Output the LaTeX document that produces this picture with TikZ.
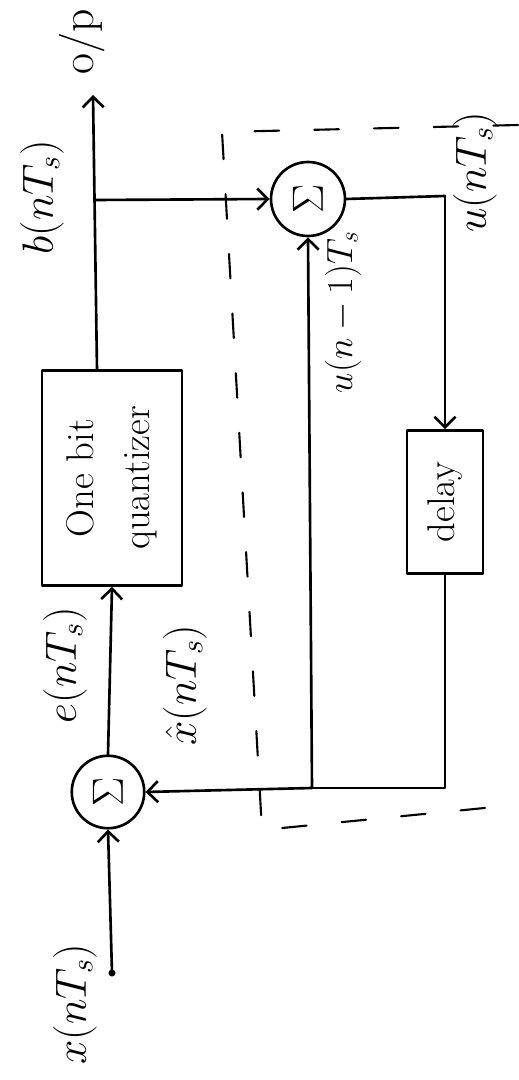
\documentclass[tikz,border=0pt]{standalone}
\usetikzlibrary{arrows.meta}
\begin{document}
\begin{tikzpicture}[x=0.02cm,y=0.02cm,rotate=90,transform shape,
  line width=1.5pt, line cap=round, line join=round,
  arr/.style={-{Straight Barb[length=6pt,width=12pt]}},
  sumnode/.style={circle,draw,minimum size=1.45cm,inner sep=0pt,font=\fontsize{24}{28}\selectfont},
  blk/.style={draw,rectangle,inner sep=0pt,align=center},
  lbl/.style={inner sep=0pt,font=\fontsize{26}{30}\selectfont},
  dashbox/.style={dash pattern=on 14pt off 20pt, line width=1.2pt}]
\useasboundingbox (0,0) rectangle (1080,-518);
% blocks
\node[sumnode] (s1) at (288,-108) {$\Sigma$};
\node[blk, minimum width=4.3cm, minimum height=2.8cm, font=\fontsize{22}{32}\selectfont] (q) at (602,-112) {One bit\\quantizer};
\node[sumnode, minimum size=1.48cm] (s2) at (881,-308) {$\Sigma$};
\node[blk, minimum width=2.86cm, minimum height=1.52cm, font=\fontsize{22}{26}\selectfont] (d) at (578,-445) {delay};
% helper points
\coordinate (in) at (107,-112);
\coordinate (qo) at (710,-97);
\coordinate (op) at (985,-93);
\coordinate (br) at (880,-95);
\coordinate (c1) at (884,-445);
\coordinate (c2) at (292,-445);
\coordinate (j) at (292,-312);
% connectors
\draw[arr] (in) -- (s1.west);
\fill (in) circle (2pt);
\draw[arr] (s1.east) -- (q.west);
\draw[arr] (qo) -- (op);
\draw[arr] (br) -- (s2.north);
\draw (s2.south) -- (c1);
\draw[arr] (c1) -- (d.east);
\draw (d.west) -- (c2) -- (j);
\draw[arr] (j) -- (s1.south);
\draw[arr] (j) -- (s2.west);
% labels
\node[lbl] (lx) at (76,-75) {$x(nT_s)$};
\node[lbl] (le) at (415,-65) {$e(nT_s)$};
\node[lbl] (lxh) at (395,-185) {$\hat{x}(nT_s)$};
\node[lbl] (lb) at (883,-42) {$b(nT_s)$};
\node[lbl] (lop) at (1038,-82) {o/p};
\node[lbl] (lu) at (908,-475) {$u(nT_s)$};
\node[lbl, font=\fontsize{22}{26}\selectfont] (lu1) at (768,-343) {$u(n-1)T_s$};
% dashed enclosure
\draw[dashbox] (955,-518) -- (948,-222) -- (250,-262) -- (275,-515);
\end{tikzpicture}
\end{document}
